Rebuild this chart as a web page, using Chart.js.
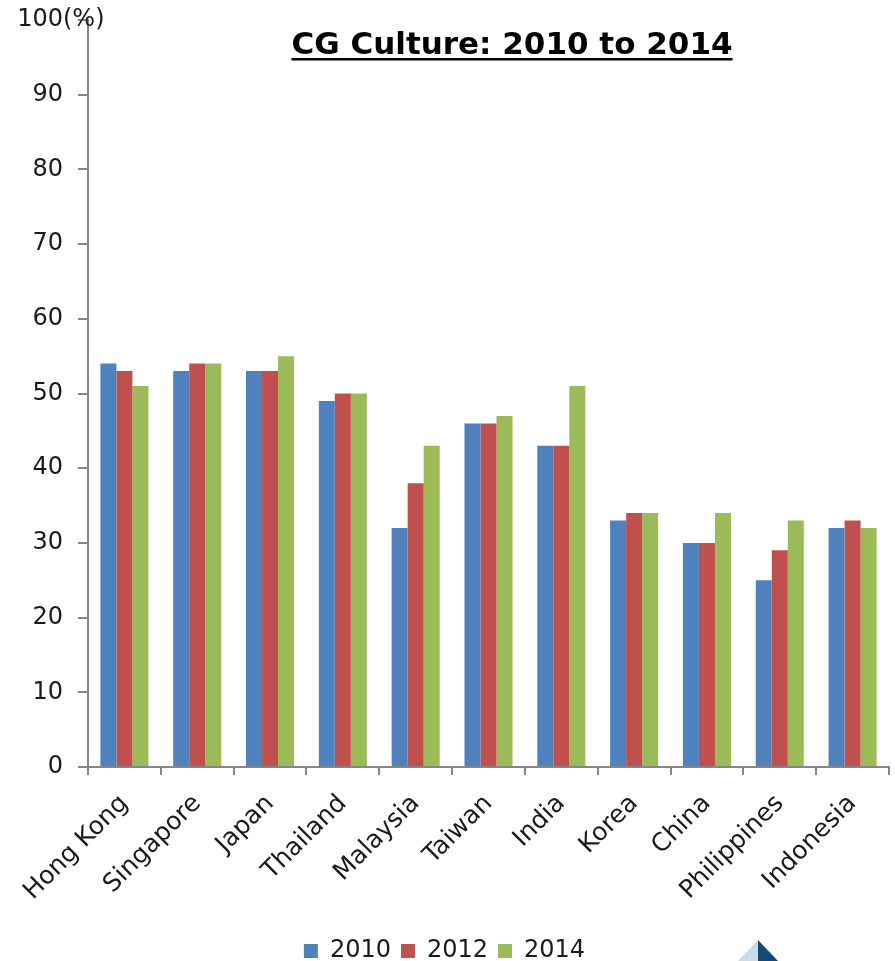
<!DOCTYPE html>
<html lang="en">
<head>
    <meta charset="UTF-8">
    <title>CG Culture: 2010 to 2014</title>
    <script src="https://cdn.jsdelivr.net/npm/chart.js@4.4.1/dist/chart.umd.min.js"></script>
    <style>
        * {
            margin: 0;
            padding: 0;
            box-sizing: border-box;
        }
        body {
            background: #ffffff;
            width: 895px;
            height: 961px;
            overflow: hidden;
        }
        canvas {
            display: block;
        }
    </style>
</head>
<body>
    <canvas id="cgChart" width="895" height="961"></canvas>

    <script>
        // Market categories and survey scores (%)
        const markets = ['Hong Kong', 'Singapore', 'Japan', 'Thailand', 'Malaysia', 'Taiwan',
                         'India', 'Korea', 'China', 'Philippines', 'Indonesia'];
        const scores2010 = [54, 53, 53, 49, 32, 46, 43, 33, 30, 25, 32];
        const scores2012 = [53, 54, 53, 50, 38, 46, 43, 34, 30, 29, 33];
        const scores2014 = [51, 54, 55, 50, 43, 47, 51, 34, 34, 33, 32];
        const yTicks = [0, 10, 20, 30, 40, 50, 60, 70, 80, 90, 100];

        const FONT = "'DejaVu Sans', sans-serif";
        const AXIS_GREY = '#868686';

        // title, underline, "(%)" unit and the small corner logo
        const decorations = {
            id: 'decorations',
            afterDraw(chart) {
                const ctx = chart.ctx;
                const yScale = chart.scales.y;
                ctx.save();

                // title
                ctx.font = "bold 31px " + FONT;
                ctx.fillStyle = '#000';
                ctx.textAlign = 'center';
                ctx.textBaseline = 'alphabetic';
                const title = 'CG Culture: 2010 to 2014';
                const tx = 512, ty = 54;
                ctx.fillText(title, tx, ty);
                const w = ctx.measureText(title).width;
                ctx.fillRect(tx - w / 2, ty + 4, w, 2.5);

                // unit after the top tick
                ctx.font = "24px " + FONT;
                ctx.fillStyle = '#1a1a1a';
                ctx.textAlign = 'left';
                ctx.textBaseline = 'middle';
                ctx.fillText('(%)', chart.chartArea.left - 25, yScale.getPixelForValue(100));

                // corner logo
                ctx.fillStyle = '#cddbe2';
                ctx.beginPath();
                ctx.moveTo(758, 940);
                ctx.lineTo(738, 961);
                ctx.lineTo(758, 961);
                ctx.closePath();
                ctx.fill();
                ctx.fillStyle = '#124a73';
                ctx.beginPath();
                ctx.moveTo(758, 940);
                ctx.lineTo(778, 961);
                ctx.lineTo(758, 961);
                ctx.closePath();
                ctx.fill();

                ctx.restore();
            }
        };

        const ctx = document.getElementById('cgChart').getContext('2d');
        new Chart(ctx, {
            type: 'bar',
            data: {
                labels: markets,
                datasets: [
                    { label: '2010', data: scores2010, backgroundColor: '#4F81BD' },
                    { label: '2012', data: scores2012, backgroundColor: '#C0504D' },
                    { label: '2014', data: scores2014, backgroundColor: '#9BBB59' }
                ]
            },
            options: {
                responsive: false,
                animation: false,
                devicePixelRatio: 1,
                layout: {
                    padding: { left: 0, right: 6, top: 0, bottom: -12 }
                },
                datasets: {
                    bar: {
                        categoryPercentage: 0.66,
                        barPercentage: 1.0
                    }
                },
                scales: {
                    y: {
                        min: 0,
                        max: 100,
                        afterBuildTicks(scale) {
                            scale.ticks = yTicks.map(v => ({ value: v }));
                        },
                        afterFit(scale) {
                            scale.width = 88;
                            scale.paddingTop = 20;
                        },
                        grid: {
                            drawOnChartArea: false,
                            drawTicks: true,
                            tickLength: 10,
                            color: AXIS_GREY,
                            lineWidth: 2
                        },
                        border: { color: AXIS_GREY, width: 2 },
                        ticks: {
                            padding: 15,
                            color: '#1a1a1a',
                            font: { family: FONT, size: 24 }
                        }
                    },
                    x: {
                        afterFit(scale) {
                            scale.height = 162;
                        },
                        grid: {
                            offset: true,
                            drawOnChartArea: false,
                            drawTicks: true,
                            tickLength: 8,
                            color: AXIS_GREY,
                            lineWidth: 2
                        },
                        border: { color: AXIS_GREY, width: 2 },
                        ticks: {
                            minRotation: 45,
                            maxRotation: 45,
                            autoSkip: false,
                            padding: 14,
                            color: '#1a1a1a',
                            font: { family: FONT, size: 25 }
                        }
                    }
                },
                plugins: {
                    title: { display: false },
                    tooltip: { enabled: false },
                    legend: {
                        position: 'bottom',
                        labels: {
                            boxWidth: 14,
                            boxHeight: 14,
                            padding: 10,
                            color: '#1a1a1a',
                            font: { family: FONT, size: 24 }
                        }
                    }
                }
            },
            plugins: [decorations]
        });
    </script>
</body>
</html>
